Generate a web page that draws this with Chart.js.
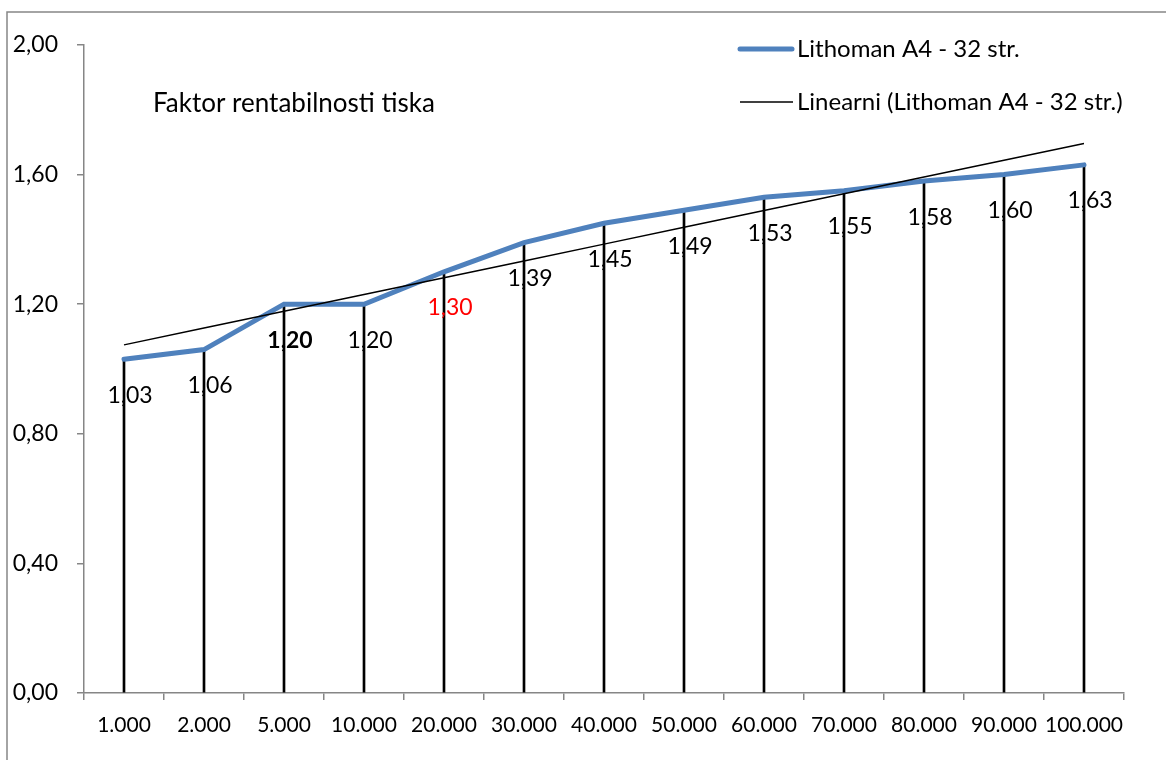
<!DOCTYPE html>
<html>
<head>
<meta charset="utf-8">
<script src="https://cdn.jsdelivr.net/npm/chart.js@4.4.0/dist/chart.umd.min.js"></script>
<style>
  body { margin: 0; background: #fff; }
  #wrap { position: relative; width: 1166px; height: 760px; }
</style>
</head>
<body>
<div id="wrap"><canvas id="chart" width="1166" height="760"></canvas></div>
<script>
// Data
const categories = ["1.000", "2.000", "5.000", "10.000", "20.000", "30.000", "40.000",
  "50.000", "60.000", "70.000", "80.000", "90.000", "100.000"];
const values = [1.03, 1.06, 1.20, 1.20, 1.30, 1.39, 1.45, 1.49, 1.53, 1.55, 1.58, 1.60, 1.63];
const seriesName = "Lithoman A4 - 32 str.";
const trendName = "Linearni (Lithoman A4 - 32 str.)";
const chartTitle = "Faktor rentabilnosti tiska";

// label styles that differ in the original
const boldLabels = [2];
const redLabels = [4];

const FONT = "Lato, Calibri, sans-serif";
const AXIS_GREY = "#868686";
const BLUE = "#4f81bd";

// linear trendline (least squares on category index), like Excel's
function linearTrend(ys) {
  const n = ys.length;
  const mx = (n + 1) / 2;
  const my = ys.reduce((a, b) => a + b, 0) / n;
  let sxy = 0, sxx = 0;
  ys.forEach((y, i) => {
    sxy += (i + 1 - mx) * (y - my);
    sxx += (i + 1 - mx) * (i + 1 - mx);
  });
  const k = sxy / sxx;
  return ys.map((_, i) => my + k * (i + 1 - mx));
}

const fmt = (v) => v.toFixed(2).replace(".", ",");

// border, title, legend and point labels
const decorations = {
  id: "decorations",
  beforeDraw(chart) {
    const ctx = chart.ctx;
    ctx.save();
    ctx.strokeStyle = AXIS_GREY;
    ctx.lineWidth = 1.5;
    ctx.strokeRect(7, 12, 1200, 800);
    ctx.restore();
  },
  afterDatasetsDraw(chart) {
    const ctx = chart.ctx;
    const meta = chart.getDatasetMeta(1);
    ctx.save();
    ctx.textAlign = "center";
    ctx.textBaseline = "middle";
    meta.data.forEach((pt, i) => {
      const bold = boldLabels.includes(i);
      ctx.font = (bold ? "bold " : "") + "23px " + FONT;
      ctx.fillStyle = redLabels.includes(i) ? "#ff0000" : "#000";
      ctx.fillText(fmt(values[i]), pt.x + 6, pt.y + 36);
    });

    // title text inside the plot
    ctx.textAlign = "left";
    ctx.font = "26px " + FONT;
    ctx.fillStyle = "#000";
    ctx.fillText(chartTitle, 153, 104);

    // legend
    ctx.lineCap = "round";
    ctx.strokeStyle = BLUE;
    ctx.lineWidth = 5;
    ctx.beginPath();
    ctx.moveTo(740, 49);
    ctx.lineTo(792, 49);
    ctx.stroke();
    ctx.lineCap = "butt";
    ctx.strokeStyle = "#000";
    ctx.lineWidth = 1.5;
    ctx.beginPath();
    ctx.moveTo(740, 102);
    ctx.lineTo(793, 102);
    ctx.stroke();
    ctx.font = "24px " + FONT;
    ctx.fillText(seriesName, 797, 49);
    ctx.fillText(trendName, 797, 102);
    ctx.restore();
  }
};

const ctx = document.getElementById("chart").getContext("2d");

new Chart(ctx, {
  type: "line",
  data: {
    labels: categories,
    datasets: [
      {
        label: trendName,
        data: linearTrend(values),
        borderColor: "#000",
        borderWidth: 1.5,
        pointRadius: 0,
        tension: 0,
        order: 0,
      },
      {
        label: seriesName,
        data: values,
        borderColor: BLUE,
        borderWidth: 5,
        borderCapStyle: "round",
        pointRadius: 0,
        tension: 0,
        order: 1,
      },
      {
        // drop lines
        type: "bar",
        label: "drop",
        data: values,
        backgroundColor: "#000",
        barThickness: 2,
        order: 2,
      },
    ],
  },
  options: {
    responsive: false,
    animation: false,
    layout: { padding: { left: 0, top: 45, right: 42, bottom: 0 } },
    plugins: {
      legend: { display: false },
      tooltip: { enabled: false },
    },
    scales: {
      x: {
        offset: true,
        grid: {
          offset: true,
          drawOnChartArea: false,
          drawTicks: true,
          tickLength: 7,
          color: AXIS_GREY,
          lineWidth: 1.5,
        },
        border: { display: true, color: AXIS_GREY, width: 1.5 },
        ticks: {
          font: { family: FONT, size: 21 },
          color: "#000",
          padding: 13,
          maxRotation: 0,
          autoSkip: false,
        },
        afterFit: (s) => { s.height = 67; },
      },
      y: {
        min: 0,
        max: 2,
        grid: {
          drawOnChartArea: false,
          drawTicks: true,
          tickLength: 7,
          color: AXIS_GREY,
          lineWidth: 1.5,
        },
        border: { display: true, color: AXIS_GREY, width: 1.5 },
        ticks: {
          stepSize: 0.4,
          font: { family: FONT, size: 23 },
          color: "#000",
          padding: 19,
          callback: (v) => fmt(v),
        },
        afterFit: (s) => { s.width = 84; },
      },
    },
  },
  plugins: [decorations],
});
</script>
</body>
</html>
